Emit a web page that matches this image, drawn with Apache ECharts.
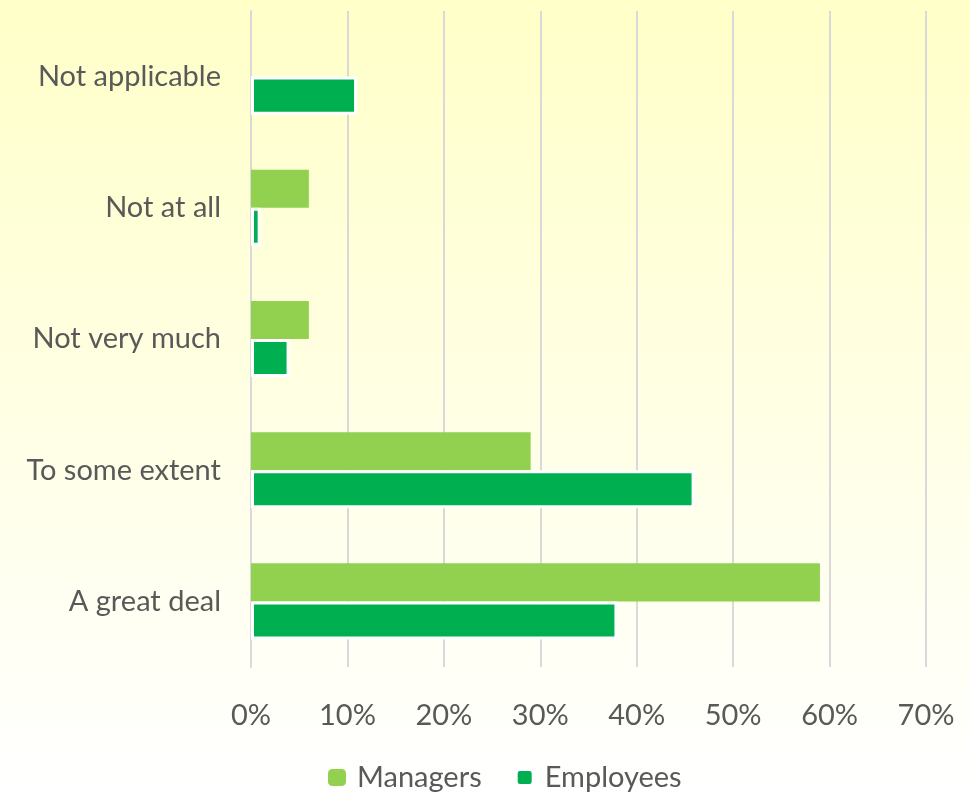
<!DOCTYPE html>
<html>
<head>
<meta charset="utf-8">
<script src="https://cdn.jsdelivr.net/npm/echarts@6/dist/echarts.min.js"></script>
<style>
html,body{margin:0;padding:0;}
#chart{width:970px;height:793px;}
</style>
</head>
<body>
<div id="chart"></div>
<script>
const categories = ['A great deal', 'To some extent', 'Not very much', 'Not at all', 'Not applicable'];
const managers = [59, 29, 6, 6, 0];
const employees = [38, 46, 4, 1, 11];
const seriesNames = ['Managers', 'Employees'];

const FONT = 'Lato';
const FS = 29;
const chart = echarts.init(document.getElementById('chart'));
chart.setOption({
  backgroundColor: {
    type: 'linear', x: 0, y: 0, x2: 0, y2: 1,
    colorStops: [{offset: 0, color: '#FFFFC8'}, {offset: 1, color: '#FFFFFF'}]
  },
  animation: false,
  textStyle: {fontFamily: FONT},
  grid: {left: 251, right: 44, top: 11, bottom: 126},
  legend: {
    data: [
      {name: seriesNames[0]},
      {name: seriesNames[1], itemStyle: {borderColor: '#FFFFFF', borderWidth: 4}}
    ],
    left: 323,
    top: 758,
    itemWidth: 18,
    itemHeight: 17,
    itemGap: 32,
    textStyle: {fontFamily: FONT, fontSize: FS, color: '#595959', padding: [0, 0, 0, 6]}
  },
  xAxis: {
    type: 'value',
    min: 0, max: 70, interval: 10,
    axisLine: {show: false},
    axisTick: {show: false},
    splitLine: {lineStyle: {color: '#D9D9D9', width: 2}},
    axisLabel: {formatter: '{value}%', margin: 34, fontSize: FS, color: '#595959', fontFamily: FONT}
  },
  yAxis: {
    type: 'category',
    data: categories,
    axisLine: {lineStyle: {color: '#D9D9D9', width: 2}},
    axisTick: {length: 8, lineStyle: {color: '#D9D9D9', width: 2}},
    axisLabel: {margin: 30, fontSize: FS, color: '#595959', fontFamily: FONT}
  },
  series: [
    {
      name: 'Managers', type: 'bar', data: managers,
      barCategoryGap: '42%', barGap: '0%',
      itemStyle: {color: '#92D050'}
    },
    {
      name: 'Employees', type: 'bar', data: employees,
      barCategoryGap: '42%', barGap: '0%',
      itemStyle: {color: '#00B050', borderColor: '#FFFFFF', borderWidth: 3}
    }
  ]
});
</script>
</body>
</html>
